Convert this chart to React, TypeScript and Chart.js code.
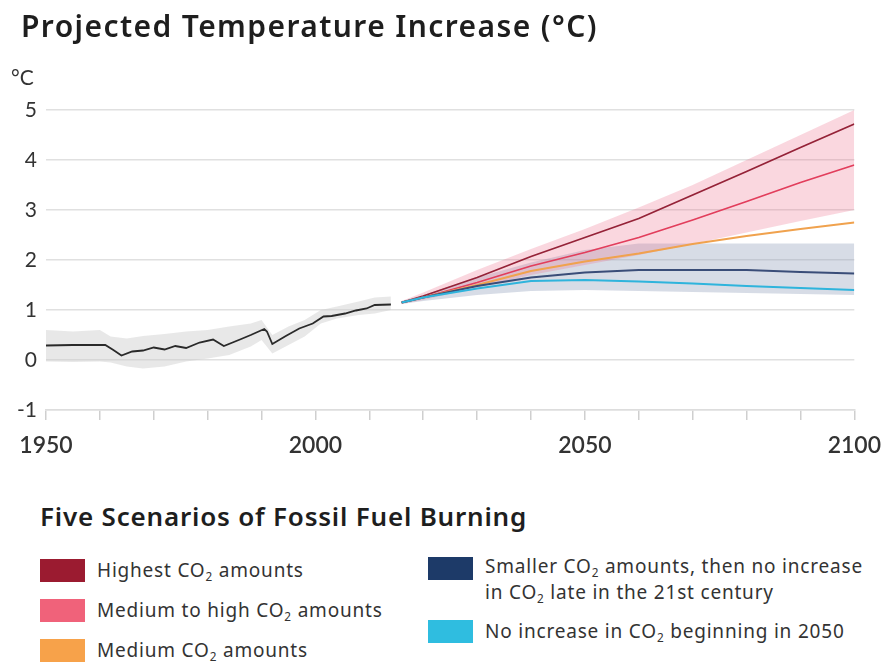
import React, { useEffect, useRef } from "react";
import { Chart, registerables } from "chart.js";
Chart.register(...registerables);

// ---------- data ----------
const histYears = [1950, 1955, 1961, 1962.5, 1964, 1966, 1968, 1970, 1972, 1974, 1976, 1978.5, 1981, 1983, 1986, 1988, 1990.5, 1991, 1992, 1994.5, 1997, 1999.5, 2001.5, 2003, 2005.5, 2007.5, 2009.5, 2011, 2014];
const histValues = [0.29, 0.3, 0.3, 0.2, 0.09, 0.17, 0.19, 0.25, 0.21, 0.28, 0.24, 0.35, 0.41, 0.28, 0.41, 0.5, 0.62, 0.57, 0.32, 0.48, 0.63, 0.73, 0.87, 0.88, 0.93, 0.99, 1.03, 1.1, 1.11];

const bandYears = [1950, 1955, 1960, 1962, 1965, 1968, 1972, 1976, 1980, 1984, 1988, 1990, 1992, 1995, 1998, 2001, 2004, 2008, 2011, 2014];
const histUpper = [0.6, 0.57, 0.6, 0.47, 0.43, 0.48, 0.52, 0.57, 0.6, 0.67, 0.73, 0.8, 0.5, 0.67, 0.8, 1.0, 1.07, 1.17, 1.25, 1.27];
const histLower = [-0.03, -0.04, -0.03, -0.05, -0.13, -0.17, -0.13, -0.03, 0.03, 0.1, 0.27, 0.4, 0.13, 0.3, 0.47, 0.73, 0.83, 0.9, 0.93, 1.0];

const projYears = [2016, 2020, 2030, 2040, 2050, 2060, 2070, 2080, 2090, 2100];
const highest = [1.15, 1.28, 1.65, 2.07, 2.45, 2.83, 3.3, 3.77, 4.25, 4.72];
const mediumHigh = [1.15, 1.25, 1.55, 1.88, 2.15, 2.45, 2.8, 3.17, 3.55, 3.9];
const medium = [1.15, 1.25, 1.5, 1.78, 1.97, 2.13, 2.32, 2.48, 2.62, 2.75];
const smaller = [1.15, 1.25, 1.48, 1.65, 1.75, 1.8, 1.8, 1.8, 1.76, 1.73];
const noIncrease = [1.15, 1.25, 1.43, 1.58, 1.6, 1.57, 1.53, 1.48, 1.44, 1.4];

const pinkUpper = [1.18, 1.35, 1.8, 2.22, 2.62, 3.05, 3.5, 4.0, 4.5, 5.0];
const pinkLower = [1.12, 1.2, 1.45, 1.7, 1.9, 2.1, 2.32, 2.55, 2.78, 3.0];
const greyUpper = [1.18, 1.3, 1.65, 1.95, 2.2, 2.33, 2.33, 2.33, 2.33, 2.33];
const greyLower = [1.12, 1.18, 1.3, 1.38, 1.4, 1.38, 1.36, 1.34, 1.32, 1.3];

const xTickLabels = [1950, 2000, 2050, 2100];
const yTicks = [-1, 0, 1, 2, 3, 4, 5];

const legendLeft = [
  { color: "#9b1b30", pre: "Highest CO", post: " amounts" },
  { color: "#f0627a", pre: "Medium to high CO", post: " amounts" },
  { color: "#f7a24a", pre: "Medium CO", post: " amounts" },
];

const pts = (xs: number[], ys: number[]) => xs.map((x, i) => ({ x, y: ys[i] }));

const line = (data: any, color: string, width = 1.8) => ({
  data,
  borderColor: color,
  borderWidth: width,
  pointRadius: 0,
  fill: false,
  tension: 0,
  order: 0,
});
const band = (data: any, bg: string, fillTarget: any, order: number) => ({
  data,
  borderWidth: 0,
  borderColor: "rgba(0,0,0,0)",
  backgroundColor: bg,
  pointRadius: 0,
  fill: fillTarget,
  tension: 0,
  order,
});

function ChartCanvas() {
  const ref = useRef<HTMLCanvasElement | null>(null);
  useEffect(() => {
    if (!ref.current) return;
    const chart = new Chart(ref.current, {
      type: "line",
      data: {
        datasets: [
          band(pts(bandYears, histUpper), "rgba(205,205,205,0.45)", "+1", 5),
          band(pts(bandYears, histLower), "rgba(0,0,0,0)", false, 5),
          band(pts(projYears, greyUpper), "rgba(140,155,182,0.35)", "+1", 4),
          band(pts(projYears, greyLower), "rgba(0,0,0,0)", false, 4),
          band(pts(projYears, pinkUpper), "rgba(238,110,140,0.28)", "+1", 3),
          band(pts(projYears, pinkLower), "rgba(0,0,0,0)", false, 3),
          line(pts(histYears, histValues), "#2a2a2a", 1.8),
          line(pts(projYears, noIncrease), "#2fb4dc", 2),
          line(pts(projYears, smaller), "#3a4d78", 2),
          line(pts(projYears, medium), "#f0a24e", 2),
          line(pts(projYears, mediumHigh), "#e23e5c", 1.8),
          line(pts(projYears, highest), "#952338", 1.8),
        ] as any,
      },
      options: {
        animation: false,
        responsive: false,
        maintainAspectRatio: false,
        layout: { padding: { left: 0, right: 36, top: 110, bottom: 20 } },
        plugins: { legend: { display: false }, tooltip: { enabled: false } },
        scales: {
          x: {
            type: "linear",
            min: 1950,
            max: 2100,
            afterFit: (s: any) => {
              s.height = 50;
            },
            grid: { drawOnChartArea: false, drawTicks: true, tickLength: 10, color: "#cfcfcf", lineWidth: 1.5 },
            border: { display: true, color: "#dddddd", width: 1.5 },
            ticks: {
              stepSize: 10,
              autoSkip: false,
              maxRotation: 0,
              padding: 12,
              color: "#333333",
              font: { family: "Lato", size: 23, weight: "600" },
              callback: (v: any) => (xTickLabels.includes(Number(v)) ? String(v) : ""),
            },
          },
          y: {
            min: -1,
            max: 5,
            afterFit: (s: any) => {
              s.width = 46;
            },
            grid: { drawTicks: false, color: "#e0e0e0", lineWidth: 1.5 },
            border: { display: false },
            afterBuildTicks: (s: any) => {
              s.ticks = yTicks.map((v) => ({ value: v }));
            },
            ticks: {
              padding: 9,
              color: "#333333",
              font: { family: "Lato", size: 21 },
            },
          },
        },
      } as any,
    });
    return () => chart.destroy();
  }, []);
  return <canvas ref={ref} width={893} height={480} style={{ position: "absolute", left: 0, top: 0, display: "block" }} />;
}

const sub = { fontSize: "0.62em", verticalAlign: "-0.3em", lineHeight: 0 } as const;

export default function App() {
  const txt = { fontFamily: "'Noto Sans', sans-serif", color: "#222" };
  const item = { ...txt, fontSize: 19, letterSpacing: "0.8px", whiteSpace: "nowrap" as const, color: "#333" };
  return (
    <div style={{ position: "absolute", left: 0, top: 0, width: 893, height: 663, background: "#fff", overflow: "hidden" }}>
      <ChartCanvas />
      <div style={{ ...txt, position: "absolute", left: 21, top: 5, fontSize: 30, letterSpacing: "1.4px", fontWeight: 600, whiteSpace: "nowrap", color: "#1e1e1e" }}>
        Projected Temperature Increase (°C)
      </div>
      <div style={{ position: "absolute", left: 11, top: 64, fontFamily: "Lato", fontSize: 21, color: "#333" }}>°C</div>
      <div style={{ ...txt, position: "absolute", left: 40, top: 498, fontSize: 26, letterSpacing: "0.8px", fontWeight: 600, whiteSpace: "nowrap", color: "#1e1e1e" }}>
        Five Scenarios of Fossil Fuel Burning
      </div>
      {legendLeft.map((it, i) => (
        <div key={i} style={{ position: "absolute", left: 40, top: 557 + i * 40, display: "flex", alignItems: "center" }}>
          <div style={{ width: 45, height: 23, background: it.color }} />
          <div style={{ ...item, marginLeft: 12 }}>
            {it.pre}
            <span style={sub}>2</span>
            {it.post}
          </div>
        </div>
      ))}
      <div style={{ position: "absolute", left: 428, top: 557, width: 45, height: 23, background: "#1d3a68" }} />
      <div style={{ ...item, position: "absolute", left: 485, top: 553, lineHeight: "26px" }}>
        Smaller CO<span style={sub}>2</span> amounts, then no increase
        <br />
        in CO<span style={sub}>2</span> late in the 21st century
      </div>
      <div style={{ position: "absolute", left: 428, top: 620, width: 45, height: 23, background: "#2fbde0" }} />
      <div style={{ ...item, position: "absolute", left: 485, top: 618, lineHeight: "26px" }}>
        No increase in CO<span style={sub}>2</span> beginning in 2050
      </div>
    </div>
  );
}
